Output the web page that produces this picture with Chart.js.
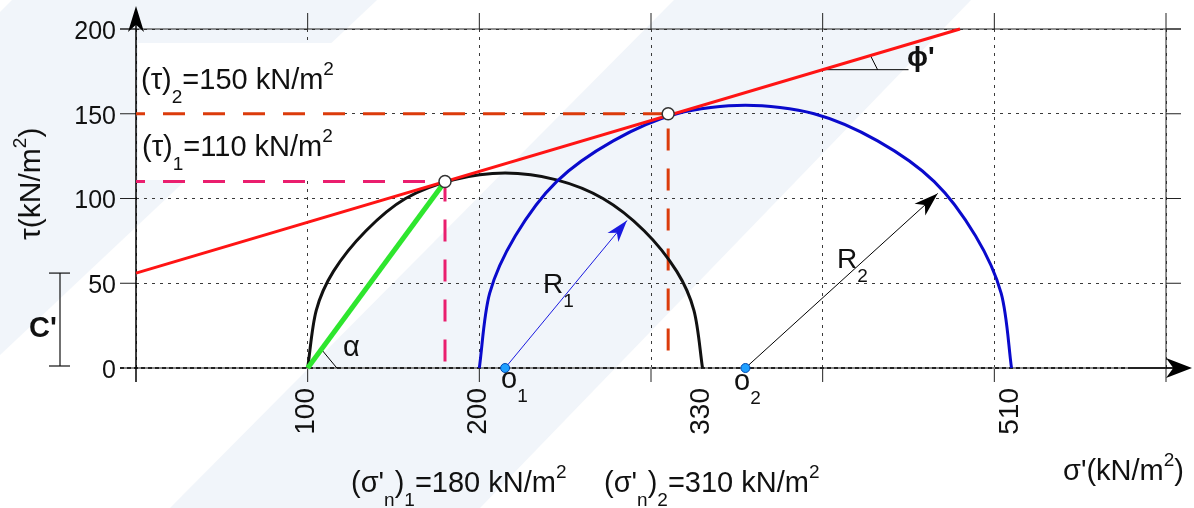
<!DOCTYPE html>
<html>
<head>
<meta charset="utf-8">
<script src="https://cdn.jsdelivr.net/npm/chart.js@4.4.1/dist/chart.umd.min.js"></script>
<style>
    html, body { margin: 0; padding: 0; background: #fff; }
    canvas { display: block; }
</style>
</head>
<body>
<canvas id="chart" width="1194" height="508"></canvas>
<script>
// *** values (sigma' and tau in kN/m2) ***
const X_TICK_LABELS = [100, 200, 330, 510];
const Y_TICK_LABELS = [0, 50, 100, 150, 200];

const CIRCLE1_SIGMA = [100, 105, 115, 134, 157, 185, 215, 245, 272, 296, 315, 325, 330];
const CIRCLE1_TAU   = [0, 34, 57, 81, 100, 111, 115, 111, 100, 81, 57, 34, 0];
const CIRCLE2_SIGMA = [200, 206, 221, 245, 278, 315, 355, 395, 432, 465, 489, 504, 510];
const CIRCLE2_TAU   = [0, 44, 78, 110, 134, 150, 155, 150, 134, 110, 78, 44, 0];

const ENVELOPE_SIGMA = [0, 480];
const ENVELOPE_TAU   = [56, 200];

const TANGENT_SIGMA = [180, 310];
const TANGENT_TAU   = [110, 150];
const CENTRE_SIGMA  = [215, 355];
const CENTRE_TAU    = [0, 0];

const GREEN_SIGMA = [100, 180];
const GREEN_TAU   = [0, 110];

const TAU1_SIGMA = [0, 180, 180];
const TAU1_TAU   = [110, 110, 0];
const TAU2_SIGMA = [0, 310, 310];
const TAU2_TAU   = [150, 150, 0];

const R1_SIGMA = [215, 286];
const R1_TAU   = [0, 87];
const R2_SIGMA = [355, 467];
const R2_TAU   = [0, 103];

const ALPHA_SIGMA   = [108, 117];
const ALPHA_TAU     = [11, 0];
const PHI_REF_SIGMA = [400, 450];
const PHI_REF_TAU   = [176, 176];
const PHI_ARC_SIGMA = [428, 432];
const PHI_ARC_TAU   = [184, 176];

const FONT = '"Liberation Sans", Arial, sans-serif';

function pts(xs, ys) {
    return xs.map(function (v, i) { return { x: v, y: ys[i] }; });
}

function lineSet(label, xs, ys, color, width, order, extra) {
    return Object.assign({
        label: label,
        data: pts(xs, ys),
        showLine: true,
        borderColor: color,
        borderWidth: width,
        pointRadius: 0,
        fill: false,
        clip: false,
        order: order
    }, extra || {});
}

// draws text made of normal / sub / sup parts
function richText(ctx, x, y, parts, size, weight) {
    let cx = x;
    parts.forEach(function (p) {
        let fs = size, dy = 0;
        if (p[1] === 'sub') { fs = 19; dy = 14; }
        if (p[1] === 'sup') { fs = 19; dy = -14; }
        ctx.font = (weight || '') + ' ' + fs + 'px ' + FONT;
        ctx.fillText(p[0], cx, y + dy);
        cx += ctx.measureText(p[0]).width;
    });
    return cx;
}

function arrowHead(ctx, x0, y0, x1, y1, len, half, color) {
    const a = Math.atan2(y1 - y0, x1 - x0);
    ctx.save();
    ctx.translate(x1, y1);
    ctx.rotate(a);
    ctx.beginPath();
    ctx.moveTo(0, 0);
    ctx.lineTo(-len, -half);
    ctx.lineTo(-len * 0.72, 0);
    ctx.lineTo(-len, half);
    ctx.closePath();
    ctx.fillStyle = color;
    ctx.fill();
    ctx.restore();
}

function seg(ctx, x0, y0, x1, y1) {
    ctx.beginPath();
    ctx.moveTo(x0, y0);
    ctx.lineTo(x1, y1);
    ctx.stroke();
}

const decor = {
    id: 'decor',
    beforeDraw: function (chart) {
        const ctx = chart.ctx;
        ctx.save();
        ctx.fillStyle = '#fff';
        ctx.fillRect(0, 0, chart.width, chart.height);
        // light diagonal bands in the background
        ctx.fillStyle = '#f1f5fa';
        [[[12, 0], [377, 0], [0, 355], [0, 12]],
         [[674, 0], [971, 0], [480, 508], [170, 508]]].forEach(function (poly) {
            ctx.beginPath();
            poly.forEach(function (p, i) { i ? ctx.lineTo(p[0], p[1]) : ctx.moveTo(p[0], p[1]); });
            ctx.closePath();
            ctx.fill();
        });
        ctx.restore();
    },
    beforeDatasetsDraw: function (chart) {
        const ctx = chart.ctx, xs = chart.scales.x, ys = chart.scales.y;
        const left = xs.getPixelForValue(0), right = xs.getPixelForValue(600);
        const top = ys.getPixelForValue(200), bottom = ys.getPixelForValue(0);
        ctx.save();
        // white panel behind the tau labels
        ctx.fillStyle = '#fff';
        ctx.fillRect(left + 2, 43, 207, 137);

        ctx.strokeStyle = '#222';
        ctx.lineWidth = 1;
        seg(ctx, left - 16, top, right + 15, top);
        seg(ctx, right, top - 16, right, bottom + 14);
        for (let v = 100; v <= 500; v += 100) {
            const px = xs.getPixelForValue(v);
            seg(ctx, px, top - 16, px, top);
            seg(ctx, px, bottom, px, bottom + 14);
        }
        for (let v = 0; v <= 200; v += 50) {
            const py = ys.getPixelForValue(v);
            seg(ctx, left - 16, py, left, py);
            seg(ctx, right, py, right + 15, py);
        }
        // sigma axis
        ctx.strokeStyle = '#8a8a8a';
        ctx.lineWidth = 2;
        seg(ctx, left - 16, bottom, right, bottom);
        ctx.strokeStyle = '#222';
        ctx.setLineDash([4, 3]);
        seg(ctx, left - 16, bottom, right - 36, bottom);
        ctx.setLineDash([]);
        ctx.strokeStyle = '#000';
        ctx.lineWidth = 1.5;
        seg(ctx, right - 36, bottom, 1186, bottom);
        arrowHead(ctx, right, bottom, 1192, bottom, 26, 10, '#000');
        // tau axis
        seg(ctx, left, bottom + 14, left, 14);
        arrowHead(ctx, left, bottom, left, 6, 26, 8, '#000');
        ctx.restore();
    },
    afterDatasetsDraw: function (chart) {
        const ctx = chart.ctx, xs = chart.scales.x, ys = chart.scales.y;
        const X = function (v) { return xs.getPixelForValue(v); };
        const Y = function (v) { return ys.getPixelForValue(v); };
        ctx.save();
        arrowHead(ctx, X(R1_SIGMA[0]), Y(R1_TAU[0]), X(R1_SIGMA[1]), Y(R1_TAU[1]), 22, 7, '#1a1ae0');
        arrowHead(ctx, X(R2_SIGMA[0]), Y(R2_TAU[0]), X(R2_SIGMA[1]), Y(R2_TAU[1]), 24, 8, '#000');

        ctx.fillStyle = '#111';
        // tau tick labels
        ctx.font = '25px ' + FONT;
        ctx.textAlign = 'right';
        ctx.textBaseline = 'middle';
        Y_TICK_LABELS.forEach(function (v) { ctx.fillText(String(v), 116, Y(v) + 3); });
        // sigma tick labels, rotated
        ctx.font = '28px ' + FONT;
        X_TICK_LABELS.forEach(function (v) {
            ctx.save();
            ctx.translate(X(v) - 1, 388);
            ctx.rotate(-Math.PI / 2);
            ctx.fillText(String(v), 0, 0);
            ctx.restore();
        });

        ctx.textAlign = 'left';
        ctx.textBaseline = 'alphabetic';
        richText(ctx, 141, 89, [['(τ)'], ['2', 'sub'], ['=150 kN/m'], ['2', 'sup']], 29);
        richText(ctx, 142, 156, [['(τ)'], ['1', 'sub'], ['=110 kN/m'], ['2', 'sup']], 29);
        richText(ctx, 351, 492, [["(σ'"], ['n', 'sub'], [')'], ['1', 'sub'], ['=180 kN/m'], ['2', 'sup']], 29);
        richText(ctx, 604, 492, [["(σ'"], ['n', 'sub'], [')'], ['2', 'sub'], ['=310 kN/m'], ['2', 'sup']], 29);
        richText(ctx, 1063, 480, [["σ'(kN/m"], ['2', 'sup'], [')']], 29);
        ctx.save();
        ctx.translate(40, 240);
        ctx.rotate(-Math.PI / 2);
        richText(ctx, 0, 0, [['τ(kN/m'], ['2', 'sup'], [')']], 30);
        ctx.restore();

        richText(ctx, 543, 293, [['R'], ['1', 'sub']], 28);
        richText(ctx, 837, 268, [['R'], ['2', 'sub']], 28);
        richText(ctx, 501, 388, [['o'], ['1', 'sub']], 29);
        richText(ctx, 734, 390, [['o'], ['2', 'sub']], 29);
        richText(ctx, 343, 356, [['α']], 29);
        richText(ctx, 907, 66, [["ϕ'"]], 28, 'bold');
        richText(ctx, 29, 337, [["C'"]], 29, 'bold');

        // C' bracket, from 0 up to the intercept of the envelope
        const cTop = Y(ENVELOPE_TAU[0]), cBot = Y(0) - 2;
        ctx.strokeStyle = '#111';
        ctx.lineWidth = 1.2;
        seg(ctx, 60, cTop, 60, cBot);
        seg(ctx, 49, cTop, 70, cTop);
        seg(ctx, 49, cBot, 70, cBot);
        ctx.restore();
    }
};

const ctx = document.getElementById('chart').getContext('2d');
const chart = new Chart(ctx, {
    type: 'scatter',
    data: {
        datasets: [
            lineSet('tangent points', TANGENT_SIGMA, TANGENT_TAU, '#333', 1.5, 0,
                { showLine: false, pointRadius: 6, pointBackgroundColor: '#fff', pointBorderColor: '#333', pointBorderWidth: 1.5 }),
            lineSet('centres', CENTRE_SIGMA, CENTRE_TAU, '#0048b0', 1, 0,
                { showLine: false, pointRadius: 4.5, pointBackgroundColor: '#1f9fff', pointBorderColor: '#0048b0', pointBorderWidth: 1 }),
            lineSet('envelope', ENVELOPE_SIGMA, ENVELOPE_TAU, '#ff1414', 3, 1),
            lineSet('alpha', GREEN_SIGMA, GREEN_TAU, '#2ee62e', 5, 2),
            lineSet('R1', R1_SIGMA, R1_TAU, '#1a1ae0', 1, 3),
            lineSet('R2', R2_SIGMA, R2_TAU, '#000', 1, 3),
            lineSet('alpha mark', ALPHA_SIGMA, ALPHA_TAU, '#000', 1, 3),
            lineSet('phi ref', PHI_REF_SIGMA, PHI_REF_TAU, '#000', 1, 3),
            lineSet('phi mark', PHI_ARC_SIGMA, PHI_ARC_TAU, '#000', 1, 3),
            lineSet('circle 2', CIRCLE2_SIGMA, CIRCLE2_TAU, '#0a0acc', 3, 4, { tension: 0.3 }),
            lineSet('circle 1', CIRCLE1_SIGMA, CIRCLE1_TAU, '#111', 3, 5, { tension: 0.3 }),
            lineSet('tau 1', TAU1_SIGMA, TAU1_TAU, '#ea1e6e', 3, 6, { borderDash: [22, 18], borderDashOffset: 13 }),
            lineSet('tau 2', TAU2_SIGMA, TAU2_TAU, '#db3b0b', 3, 6, { borderDash: [22, 18], borderDashOffset: 13 })
        ]
    },
    options: {
        responsive: false,
        animation: false,
        devicePixelRatio: 1,
        layout: { padding: { left: 136, right: 28, top: 29, bottom: 140 } },
        plugins: { legend: { display: false }, tooltip: { enabled: false } },
        scales: {
            x: {
                type: 'linear', min: 0, max: 600,
                ticks: { stepSize: 100, display: false },
                grid: { color: '#3a3a3a', lineWidth: 1, drawTicks: false },
                border: { display: false, dash: [3, 5] }
            },
            y: {
                type: 'linear', min: 0, max: 200,
                ticks: { stepSize: 50, display: false },
                grid: { color: '#3a3a3a', lineWidth: 1, drawTicks: false },
                border: { display: false, dash: [3, 5] }
            }
        }
    },
    plugins: [decor]
});
</script>
</body>
</html>
